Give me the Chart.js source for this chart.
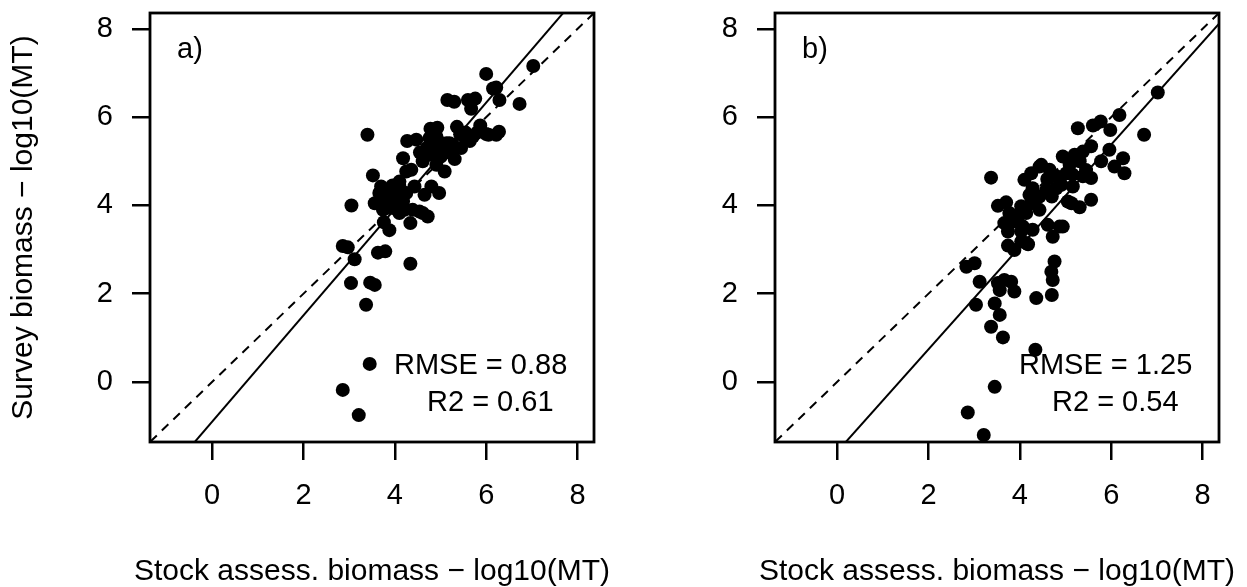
<!DOCTYPE html>
<html>
<head>
<meta charset="utf-8">
<script src="https://cdn.jsdelivr.net/npm/chart.js"></script>
<style>
  html, body { margin: 0; padding: 0; background: #fff; overflow: hidden; }
  .panel { position: absolute; top: 0; height: 587px; }
  #pa { left: 0; width: 623px; }
  #pb { left: 625px; width: 622px; }
</style>
</head>
<body>
<div class="panel" id="pa"><canvas id="ca"></canvas></div>
<div class="panel" id="pb"><canvas id="cb"></canvas></div>
<script>
  /* axis limits and ticks (same on both axes, both panels) */
  const LIM = [-1.36, 8.36];
  const TICKS = [0, 2, 4, 6, 8];
  const X_TITLE = 'Stock assess. biomass \u2212 log10(MT)';
  const Y_TITLE = 'Survey biomass \u2212 log10(MT)';

  /* panel a — stock assessment vs survey biomass */
  const SA_A = [7.03, 6.00, 6.15, 6.22, 6.29, 6.73, 5.15, 5.30, 5.60, 5.76, 5.67, 3.40, 4.78, 4.93, 5.36, 5.87,
    5.43, 6.05, 6.28, 5.64, 4.27, 4.47, 4.76, 4.91, 5.13, 5.27, 4.18, 4.61, 4.91, 4.80, 5.31, 5.09, 4.25, 4.36,
    3.52, 4.80, 4.97, 4.65, 3.05, 3.66, 3.88, 4.10, 4.25, 3.56, 3.81, 4.03, 4.18, 3.74, 3.96, 4.21, 4.10, 4.39,
    4.54, 4.61, 4.72, 4.34, 3.76, 3.88, 2.86, 2.97, 3.12, 3.63, 3.79, 4.34, 3.04, 3.46, 3.56, 3.37, 3.45, 2.86,
    3.21, 3.70, 4.43, 5.05, 5.20, 5.56, 5.71, 6.00, 6.22, 4.10, 3.90, 4.00, 3.85, 4.05, 3.70, 3.95, 4.15, 4.70,
    4.85, 5.00, 4.55, 5.20, 4.95, 5.45, 5.55, 5.80];
  const SV_A = [7.16, 6.98, 6.65, 6.67, 6.39, 6.30, 6.39, 6.35, 6.39, 6.42, 6.19, 5.60, 5.74, 5.76, 5.78, 5.81,
    5.61, 5.60, 5.67, 5.46, 5.46, 5.49, 5.53, 5.56, 5.41, 5.37, 5.07, 5.00, 4.92, 5.15, 5.05, 4.77, 4.77, 4.81,
    4.68, 4.43, 4.28, 4.24, 4.00, 4.28, 4.35, 4.43, 4.28, 4.05, 4.13, 4.05, 4.09, 3.90, 3.94, 3.90, 3.83, 3.90,
    3.86, 3.83, 3.75, 3.60, 3.62, 3.44, 3.08, 3.05, 2.78, 2.93, 2.96, 2.68, 2.24, 2.25, 2.20, 1.75, 0.41, -0.18,
    -0.75, 4.43, 4.43, 5.34, 5.41, 5.49, 5.56, 5.62, 5.60, 4.54, 4.20, 4.00, 3.95, 4.30, 4.10, 4.45, 4.20, 5.30,
    5.25, 5.10, 5.20, 5.20, 5.45, 5.30, 5.65, 5.65];

  /* panel b */
  const SA_B = [7.02, 6.18, 5.27, 5.60, 5.77, 5.98, 6.72, 3.37, 3.52, 3.70, 5.56, 5.31, 5.13, 4.94, 4.72, 3.74,
    3.88, 4.18, 4.03, 2.83, 3.01, 3.12, 3.52, 3.66, 3.81, 3.88, 3.56, 4.76, 4.69, 4.72, 4.70, 4.36, 3.04, 3.45,
    3.56, 3.37, 3.63, 4.34, 3.45, 2.86, 3.21, 5.56, 5.38, 5.31, 5.96, 6.26, 5.78, 6.07, 6.29, 4.94, 5.09, 4.47,
    4.65, 4.25, 4.10, 4.80, 5.02, 4.91, 5.38, 5.56, 5.16, 4.28, 4.58, 4.80, 4.21, 4.43, 5.05, 4.03, 4.25, 4.43,
    3.99, 3.77, 3.66, 3.88, 4.07, 3.74, 4.61, 4.87, 4.28, 4.14, 3.92, 4.14, 4.03, 4.43, 5.20, 4.70, 5.45, 4.60,
    5.15];
  const SV_B = [6.56, 6.05, 5.75, 5.81, 5.90, 5.71, 5.60, 4.63, 3.99, 4.07, 4.13, 3.96, 4.05, 3.52, 3.29, 3.09,
    2.99, 3.12, 3.18, 2.61, 2.69, 2.27, 2.24, 2.31, 2.27, 2.05, 2.08, 2.73, 2.50, 2.31, 1.97, 1.90, 1.75, 1.78,
    1.52, 1.25, 1.01, 0.73, -0.11, -0.69, -1.20, 5.34, 5.22, 5.00, 5.26, 5.07, 5.00, 4.88, 4.73, 5.11, 4.92, 4.92,
    4.81, 4.73, 4.58, 4.66, 4.73, 4.47, 4.66, 4.62, 4.43, 4.39, 4.35, 4.39, 4.24, 4.20, 4.09, 3.98, 4.05, 3.90,
    3.79, 3.83, 3.60, 3.64, 3.52, 3.41, 3.56, 3.52, 3.45, 3.15, 3.71, 3.83, 3.41, 4.88, 5.15, 4.20, 4.80, 4.60,
    4.70];

  /* fitted lines: [intercept, slope] */
  const FIT_A = [-0.90, 1.205];
  const FIT_B = [-1.58, 1.16];

  const LABEL_A = 'a)';
  const LABEL_B = 'b)';
  const STATS_A = ['RMSE = 0.88', 'R2 = 0.61'];
  const STATS_B = ['RMSE = 1.25', 'R2 = 0.54'];

  const FAMILY = '"Liberation Sans", Arial, sans-serif';
  const FONT = { family: FAMILY, size: 29 };
  const TITLE_FONT = { family: FAMILY, size: 30 };

  function pts(xs, ys) {
    return xs.map(function (x, i) { return { x: x, y: ys[i] }; });
  }

  function lineFrom(fit) {
    return [LIM[0] - 1, LIM[1] + 1].map(function (x) { return { x: x, y: fit[0] + fit[1] * x }; });
  }

  // box, panel texts and x title (drawn here so it is not squeezed to the axis width)
  const frame = {
    id: 'frame',
    afterDraw: function (chart, args, o) {
      const a = chart.chartArea, ctx = chart.ctx;
      ctx.save();
      ctx.strokeStyle = '#000';
      ctx.lineWidth = 2.8;
      ctx.strokeRect(a.left, a.top, a.right - a.left, a.bottom - a.top);
      ctx.fillStyle = '#000';
      ctx.font = FONT.size + 'px ' + FAMILY;
      ctx.textAlign = 'left';
      ctx.textBaseline = 'alphabetic';
      ctx.fillText(o.label, a.left + 27, a.top + 45);
      ctx.fillText(o.stats[0], a.left + 244, a.top + 361);
      ctx.fillText(o.stats[1], a.left + 277, a.top + 398);
      ctx.font = TITLE_FONT.size + 'px ' + FAMILY;
      ctx.textAlign = 'center';
      ctx.fillText(X_TITLE, (a.left + a.right) / 2, a.bottom + 138);
      ctx.restore();
    }
  };

  function axis(title, showTitle, vertical) {
    return {
      type: 'linear',
      min: LIM[0], max: LIM[1],
      afterBuildTicks: function (s) { s.ticks = TICKS.map(function (v) { return { value: v }; }); },
      afterFit: function (s) {
        // fixed axis size, no label overhang padding
        if (vertical) s.width = 150; else s.height = 145;
        s.paddingTop = 0; s.paddingBottom = 0; s.paddingLeft = 0; s.paddingRight = 0;
      },
      ticks: { color: '#000', font: FONT, padding: 19, maxRotation: 0, autoSkip: false },
      grid: { drawOnChartArea: false, drawTicks: true, tickLength: 18, lineWidth: 2.5, color: '#000' },
      border: { display: false },
      title: {
        display: showTitle, text: title, color: '#000', font: TITLE_FONT,
        padding: { top: 6, bottom: 0 }
      }
    };
  }

  function makeChart(id, xs, ys, fit, label, stats, showY, rightPad) {
    return new Chart(document.getElementById(id), {
      type: 'scatter',
      data: {
        datasets: [
          { type: 'line', data: lineFrom([0, 1]), borderColor: '#000', borderWidth: 2, borderDash: [9, 7],
            pointRadius: 0, fill: false },
          { type: 'line', data: lineFrom(fit), borderColor: '#000', borderWidth: 2, pointRadius: 0, fill: false },
          { data: pts(xs, ys), backgroundColor: '#000', borderWidth: 0, pointRadius: 7 }
        ]
      },
      options: {
        responsive: true,
        maintainAspectRatio: false,
        animation: false,
        events: [],
        layout: { padding: { top: 13, right: rightPad, bottom: 0, left: 0 } },
        plugins: { legend: { display: false }, tooltip: { enabled: false }, frame: { label: label, stats: stats } },
        scales: { x: axis(X_TITLE, false, false), y: axis(Y_TITLE, showY, true) }
      },
      plugins: [frame]
    });
  }

  makeChart('ca', SA_A, SV_A, FIT_A, LABEL_A, STATS_A, true, 29);
  makeChart('cb', SA_B, SV_B, FIT_B, LABEL_B, STATS_B, false, 28);
</script>
</body>
</html>
